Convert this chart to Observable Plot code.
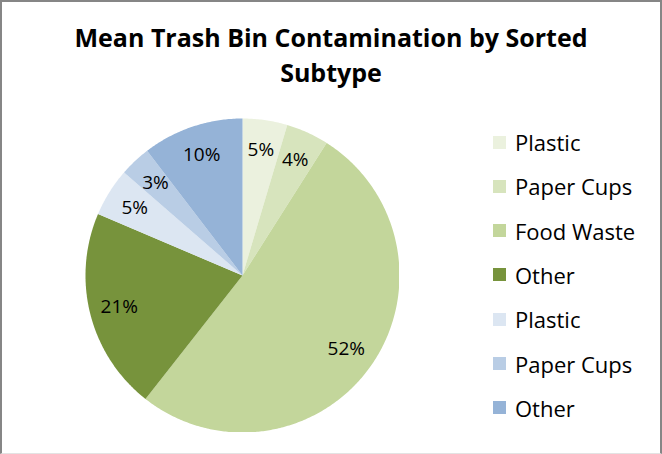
<!DOCTYPE html>
<html>
<head>
<meta charset="utf-8">
<script src="https://cdn.jsdelivr.net/npm/d3@7"></script>
<script src="https://cdn.jsdelivr.net/npm/@observablehq/plot@0.6"></script>
<style>
  html, body { margin: 0; padding: 0; background: #fff; }
  #chart {
    position: relative; width: 662px; height: 454px; box-sizing: border-box;
    border-left: 2px solid #868686; border-top: 2px solid #868686; border-right: 2px solid #868686;
    border-bottom: 1px solid #e3e3e3; background: #fff;
    font-family: "Open Sans", "Liberation Sans", sans-serif; color: #000; overflow: hidden;
  }
  #title {
    position: absolute; left: 0; width: 658px; top: 17.5px; text-align: center;
    font-weight: bold; font-size: 25px; line-height: 35px;
  }
  #pie { position: absolute; left: 82.5px; top: 116px; }
  #legend { position: absolute; left: 491px; top: 127px; }
  .item { position: absolute; left: 0; height: 26px; display: flex; align-items: center; white-space: nowrap; font-size: 22px; }
  .sw { width: 13px; height: 13px; margin-right: 9px; }
</style>
</head>
<body>
<div id="chart">
  <div id="title">Mean Trash Bin Contamination by Sorted<br>Subtype</div>
  <div id="pie"></div>
  <div id="legend"></div>
</div>
<script>
const keys = ["Plastic (A)", "Paper Cups (A)", "Food Waste", "Other (A)", "Plastic (B)", "Paper Cups (B)", "Other (B)"];
const legendLabels = ["Plastic", "Paper Cups", "Food Waste", "Other", "Plastic", "Paper Cups", "Other"];
const values = [4.6, 4.4, 51.6, 20.8, 5.0, 3.2, 10.4];
const colors = ["#EBF1DE", "#D7E4BD", "#C3D69B", "#77933C", "#DCE6F2", "#B9CDE5", "#95B3D7"];

const total = d3.sum(values);
const arcs = d3.pie().sort(null).value(d => d)(values);
const slices = arcs.map((a, i) => {
  const n = Math.max(4, Math.ceil((a.endAngle - a.startAngle) / 0.01));
  const ring = [[0, 0]];
  for (let k = 0; k <= n; k++) {
    const t = a.startAngle + (a.endAngle - a.startAngle) * k / n;
    ring.push([Math.sin(t), Math.cos(t)]);
  }
  ring.push([0, 0]);
  const mid = (a.startAngle + a.endAngle) / 2;
  const lr = 0.81;
  return {
    type: "Feature",
    properties: {key: keys[i], label: Math.round(values[i] / total * 100) + "%", lx: lr * Math.sin(mid), ly: lr * Math.cos(mid)},
    geometry: {type: "Polygon", coordinates: [ring]}
  };
});

const frameSquare = {type: "Polygon", coordinates: [[[-1, -1], [1, -1], [1, 1], [-1, 1], [-1, -1]]]};

const size = 314;
const plot = Plot.plot({
  width: size, height: size, margin: 0,
  projection: {type: "reflect-y", domain: frameSquare},
  color: {domain: keys, range: colors},
  style: {background: "transparent", fontFamily: "'Open Sans', sans-serif"},
  marks: [
    Plot.geo(slices, {fill: d => d.properties.key, stroke: "none"}),
    Plot.text(slices, {x: d => d.properties.lx, y: d => d.properties.ly, text: d => d.properties.label,
      fontSize: 19, fill: "#000"})
  ]
});
document.getElementById("pie").appendChild(plot);

const colorScale = plot.scale("color");
const legend = document.getElementById("legend");
keys.forEach((k, i) => {
  const item = document.createElement("div");
  item.className = "item";
  item.style.top = (i * 44.3) + "px";
  const sw = document.createElement("div");
  sw.className = "sw";
  sw.style.background = colorScale.apply(k);
  const tx = document.createElement("span");
  tx.textContent = legendLabels[i];
  item.appendChild(sw); item.appendChild(tx);
  legend.appendChild(item);
});
</script>
</body>
</html>
